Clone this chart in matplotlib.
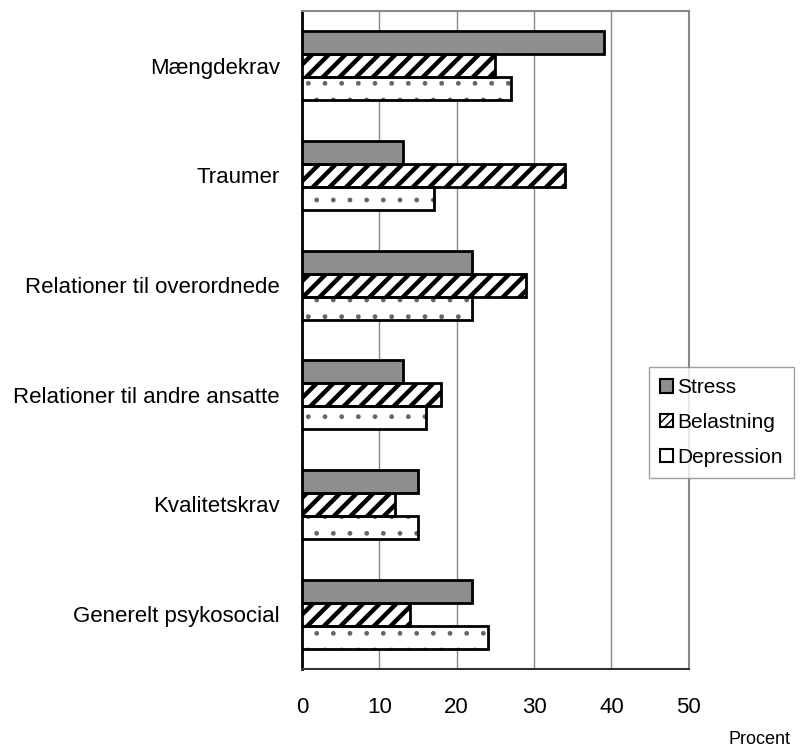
import matplotlib
matplotlib.use("Agg")
import matplotlib.pyplot as plt
import numpy as np

plt.rcParams['font.family'] = ['Liberation Sans', 'DejaVu Sans']

categories = ["Mængdekrav", "Traumer", "Relationer til overordnede",
              "Relationer til andre ansatte", "Kvalitetskrav", "Generelt psykosocial"]
stress = [39, 13, 22, 13, 15, 22]
belastning = [25, 34, 29, 18, 12, 14]
depression = [27, 17, 22, 16, 15, 24]
series_names = ["Stress", "Belastning", "Depression"]
xticks = [0, 10, 20, 30, 40, 50]

fig = plt.figure(figsize=(8.01, 7.53), dpi=100)
ax = fig.add_axes([0.377, 0.1116, 0.860 - 0.377, 0.9854 - 0.1116])

n = len(categories)
ypos = np.arange(n)
h = 0.21

# fill style per series: (face, hatch, hatch colour, hatch line width)
styles = [
    ("#8e8e8e", None, "black", 1.0),
    ("white", "//", "black", 3.2),
    ("white", ".", "#666666", 1.0),
]
handles = []
for k, (vals, st, name) in enumerate(zip([stress, belastning, depression], styles, series_names)):
    face, hatch, hcol, hlw = st
    y = ypos + (k - 1) * h
    with plt.rc_context({"hatch.linewidth": hlw}):
        fill = ax.barh(y, vals, height=h, facecolor=face, edgecolor=hcol,
                       linewidth=0, hatch=hatch, zorder=3)
        for p in fill:
            if hasattr(p, "set_hatch_linewidth"):
                p.set_hatch_linewidth(hlw)
    ax.barh(y, vals, height=h, facecolor="none", edgecolor="black",
            linewidth=2.0, zorder=4)
    # legend proxy
    with plt.rc_context({"hatch.linewidth": 1.5}):
        proxy = matplotlib.patches.Patch(facecolor=face, edgecolor="black",
                                         hatch=("////" if hatch == "//" else None),
                                         linewidth=1.5)
    handles.append(proxy)

ax.set_ylim(n - 0.5, -0.5)
ax.set_xlim(0, 50)
ax.set_yticks(ypos)
ax.set_yticklabels(categories, fontsize=16)
ax.set_xticks(xticks)
ax.set_xticklabels([str(t) for t in xticks], fontsize=16)
ax.tick_params(axis="both", length=0)
ax.tick_params(axis="x", pad=20)
ax.tick_params(axis="y", pad=16)

ax.grid(axis="x", color="#888888", linewidth=1.0, zorder=0)
ax.set_axisbelow(True)
for side in ["top", "right"]:
    ax.spines[side].set_color("#888888")
    ax.spines[side].set_linewidth(1.5)
ax.spines["bottom"].set_color("#333333")
ax.spines["bottom"].set_linewidth(1.5)
ax.spines["left"].set_color("black")
ax.spines["left"].set_linewidth(2.0)

leg = fig.legend(handles=handles, labels=series_names, loc="upper left",
                 bbox_to_anchor=(649 / 801, 1 - 367 / 753), borderaxespad=0,
                 fontsize=15, frameon=True, fancybox=False, edgecolor="#888888",
                 handlelength=0.6, handleheight=0.6, handletextpad=0.2,
                 labelspacing=0.75, borderpad=0.55)
leg.get_frame().set_linewidth(1.0)

fig.text(790 / 801, 1 - 740 / 753, "Procent", fontsize=13, ha="right", va="center")

fig.savefig("out.png", dpi=100)
